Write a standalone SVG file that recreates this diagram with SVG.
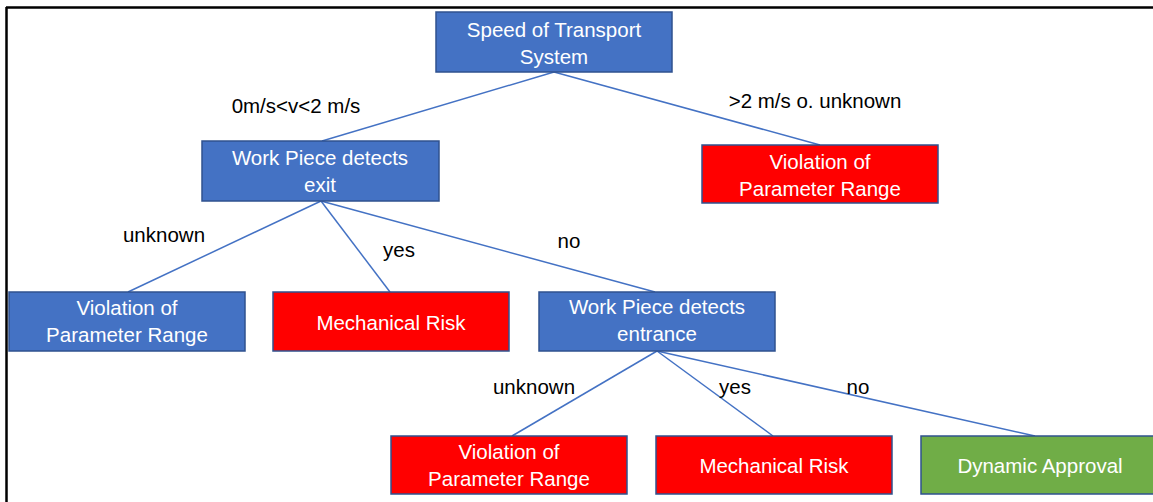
<svg xmlns="http://www.w3.org/2000/svg" width="1153" height="502" viewBox="0 0 1153 502">
<style>
  .box { stroke: #2F528F; stroke-width: 1.5; }
  .blue { fill: #4472C4; }
  .red { fill: #FF0000; }
  .green { fill: #70AD47; }
  .nt { font-family: "Liberation Sans", Arial, sans-serif; font-size: 20.5px; fill: #FFFFFF; text-anchor: middle; }
  .lt { font-family: "Liberation Sans", Arial, sans-serif; font-size: 20.5px; fill: #000000; text-anchor: middle; }
  .edge { stroke: #4472C4; stroke-width: 1.5; fill: none; }
</style>
<rect x="0" y="0" width="1153" height="502" fill="#FFFFFF"/>
<path d="M6,7.5 H1153 M6.5,7 V502" stroke="#000000" stroke-width="2.5" fill="none"/>
<g id="connectors">
  <line class="edge" x1="554" y1="72" x2="322" y2="141"/>
  <line class="edge" x1="554" y1="72" x2="820" y2="145"/>
  <line class="edge" x1="321" y1="201" x2="128" y2="292"/>
  <line class="edge" x1="321" y1="201" x2="390" y2="292"/>
  <line class="edge" x1="321" y1="201" x2="655" y2="292"/>
  <line class="edge" x1="657" y1="351" x2="512" y2="436"/>
  <line class="edge" x1="657" y1="351" x2="773" y2="436"/>
  <line class="edge" x1="657" y1="351" x2="1035" y2="436"/>
  <text class="lt" x="296" y="113">0m/s&lt;v&lt;2 m/s</text>
  <text class="lt" x="815" y="108">&gt;2 m/s o. unknown</text>
  <text class="lt" x="164" y="242">unknown</text>
  <text class="lt" x="399" y="257">yes</text>
  <text class="lt" x="569" y="248">no</text>
  <text class="lt" x="534" y="394">unknown</text>
  <text class="lt" x="735" y="394">yes</text>
  <text class="lt" x="858" y="394">no</text>
</g>
<g id="root">
  <rect class="box blue" x="436" y="12" width="236" height="60"/>
  <text class="nt" x="554" y="37">Speed of Transport</text>
  <text class="nt" x="554" y="64">System</text>
</g>
<g id="wp-exit">
  <rect class="box blue" x="202" y="141" width="237" height="60"/>
  <text class="nt" x="320" y="165">Work Piece detects</text>
  <text class="nt" x="320" y="192">exit</text>
</g>
<g id="violation-1">
  <rect class="box red" x="702" y="145" width="236" height="58"/>
  <text class="nt" x="820" y="169">Violation of</text>
  <text class="nt" x="820" y="196">Parameter Range</text>
</g>
<g id="violation-2">
  <rect class="box blue" x="9" y="292" width="236" height="59"/>
  <text class="nt" x="127" y="315">Violation of</text>
  <text class="nt" x="127" y="342">Parameter Range</text>
</g>
<g id="mech-risk-1">
  <rect class="box red" x="273" y="292" width="236" height="59"/>
  <text class="nt" x="391" y="330">Mechanical Risk</text>
</g>
<g id="wp-entrance">
  <rect class="box blue" x="539" y="292" width="236" height="59"/>
  <text class="nt" x="657" y="314">Work Piece detects</text>
  <text class="nt" x="657" y="341">entrance</text>
</g>
<g id="violation-3">
  <rect class="box red" x="391" y="436" width="236" height="58"/>
  <text class="nt" x="509" y="459">Violation of</text>
  <text class="nt" x="509" y="486">Parameter Range</text>
</g>
<g id="mech-risk-2">
  <rect class="box red" x="656" y="436" width="236" height="58"/>
  <text class="nt" x="774" y="473">Mechanical Risk</text>
</g>
<g id="dynamic-approval">
  <rect class="box green" x="921" y="436" width="238" height="58"/>
  <text class="nt" x="1040" y="473">Dynamic Approval</text>
</g>
</svg>
